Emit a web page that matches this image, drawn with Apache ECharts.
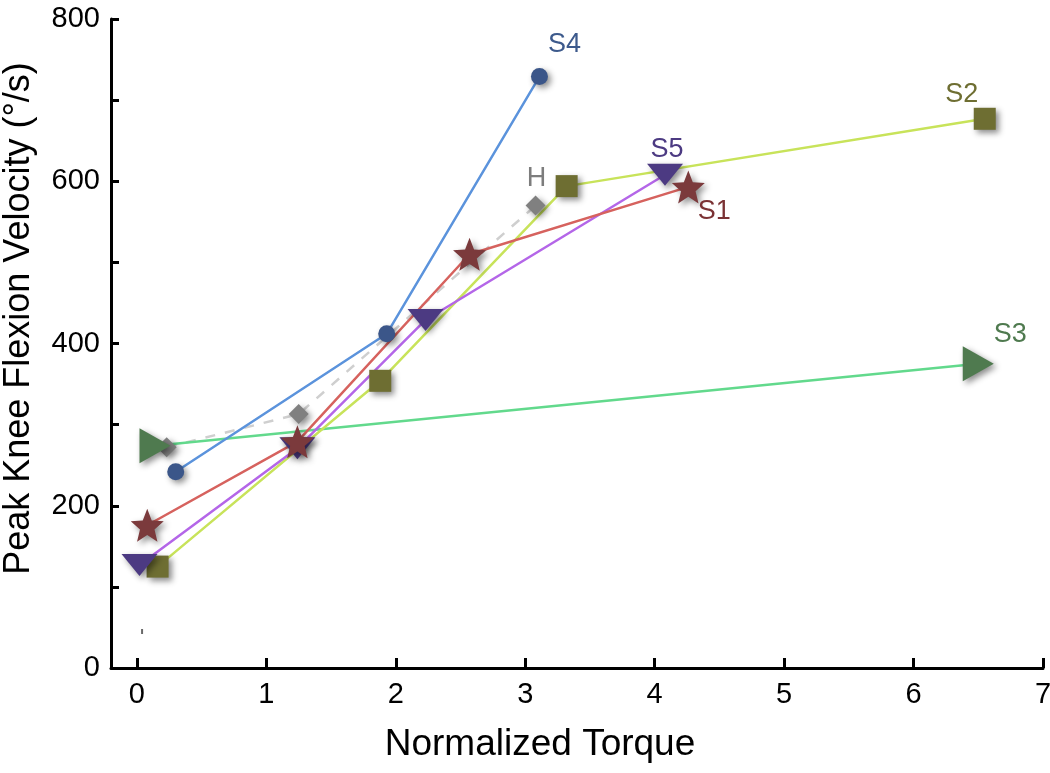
<!DOCTYPE html>
<html>
<head>
<meta charset="utf-8">
<script src="https://cdn.jsdelivr.net/npm/echarts@6/dist/echarts.min.js"></script>
<style>html,body{margin:0;padding:0;background:#fff;}#chart{width:1050px;height:773px;}</style>
</head>
<body>
<div id="chart"></div>
<script>
// ---- data ----
const xTicks = [0, 1, 2, 3, 4, 5, 6, 7];
const yTicks = [0, 200, 400, 600, 800];
const s1 = [[0.08, 176], [1.24, 279], [2.57, 510], [4.26, 593]];
const s2 = [[0.16, 125], [1.88, 354], [3.32, 594], [6.55, 677]];
const s3 = [[0.14, 274], [6.50, 375]];
const s4 = [[0.30, 242], [1.93, 412], [3.11, 729]];
const s5 = [[0.02, 127], [1.24, 271], [2.23, 429], [4.08, 608]];
const sH = [[0.23, 272], [1.25, 313], [3.08, 570]];
const strayPoint = [[0.04, 45]];

const starPath = 'path://M50 0 L62.9 32.3 L97.55 34.55 L70.9 56.8 L79.39 90.45 L50 72 L20.61 90.45 L29.1 56.8 L2.45 34.55 L37.1 32.3 Z';
const FONT = 'Liberation Sans, Arial, Helvetica, sans-serif';

function withEndLabel(data, text, color, offset) {
  return data.map((d, i) => {
    if (i !== data.length - 1) return d;
    return {
      value: d,
      label: {
        show: true, formatter: text, position: 'inside', offset: offset,
        color: color, fontSize: 27, fontFamily: FONT
      }
    };
  });
}

function makeSeries(name, data, lineColor, markColor, symbol, size, rotate, labelText, labelColor, offset, dashed) {
  return {
    name: name,
    type: 'line',
    data: withEndLabel(data, labelText, labelColor, offset),
    symbol: symbol,
    symbolSize: size,
    symbolRotate: rotate,
    showSymbol: true,
    animation: false,
    lineStyle: { color: lineColor, width: 2.5, type: dashed ? [10, 10] : 'solid' },
    itemStyle: {
      color: markColor, opacity: 1,
      shadowColor: 'rgba(0,0,0,0.45)', shadowBlur: 6, shadowOffsetX: 3, shadowOffsetY: 3
    },
    emphasis: { disabled: true }
  };
}

const chart = echarts.init(document.getElementById('chart'));
chart.setOption({
  backgroundColor: '#ffffff',
  animation: false,
  grid: { left: 111, right: 7, top: 19, bottom: 105, containLabel: false, outerBoundsMode: 'none' },
  xAxis: {
    type: 'value', min: -0.2, max: 7,
    name: 'Normalized Torque', nameLocation: 'middle', nameGap: 58,
    nameTextStyle: { fontSize: 37, color: '#000', fontFamily: FONT, padding: [0, 74, 0, 0] },
    axisLine: { show: true, onZero: false, lineStyle: { color: '#000', width: 3 } },
    axisTick: { show: true, inside: true, length: 10, lineStyle: { color: '#000', width: 3 }, customValues: xTicks },
    axisLabel: { show: true, customValues: xTicks, fontSize: 29, color: '#000', fontFamily: FONT, margin: 12 },
    splitLine: { show: false }
  },
  yAxis: {
    type: 'value', min: 0, max: 800, interval: 100,
    name: 'Peak Knee Flexion Velocity (°/s)', nameLocation: 'middle', nameGap: 74,
    nameTextStyle: { fontSize: 36, color: '#000', fontFamily: FONT, padding: [0, 0, 0, 50] },
    axisLine: { show: true, onZero: false, lineStyle: { color: '#000', width: 3 } },
    axisTick: { show: true, inside: true, length: 8, lineStyle: { color: '#000', width: 3 } },
    axisLabel: {
      fontSize: 29, color: '#000', fontFamily: FONT, margin: 11,
      formatter: v => (yTicks.indexOf(v) >= 0 ? String(v) : '')
    },
    splitLine: { show: false }
  },
  series: [
    makeSeries('H', sH, '#cfcfcf', '#808080', 'diamond', 20, 0, 'H', '#7d7d7d', [1, -27], true),
    makeSeries('S3', s3, '#62d98c', '#4f7a4f', 'triangle', [35, 31], -90, 'S3', '#4f7a4f', [32, -29], false),
    makeSeries('S4', s4, '#5b93dc', '#3b5689', 'circle', 17, 0, 'S4', '#3d5a8c', [25, -32], false),
    makeSeries('S2', s2, '#c8e35a', '#6e6e32', 'rect', 22, 0, 'S2', '#6e6e32', [-23, -24], false),
    makeSeries('S5', s5, '#b466e8', '#4c3a82', 'triangle', [36, 22], 180, 'S5', '#4c3a82', [2, -25], false),
    makeSeries('S1', s1, '#d6625e', '#7b3a3c', starPath, 33, 0, 'S1', '#7b3234', [26, 25], false),
    {
      name: 'stray', type: 'scatter', data: strayPoint, symbol: 'rect', symbolSize: [2, 5],
      itemStyle: { color: '#444' }, animation: false, emphasis: { disabled: true }
    }
  ]
});
</script>
</body>
</html>
